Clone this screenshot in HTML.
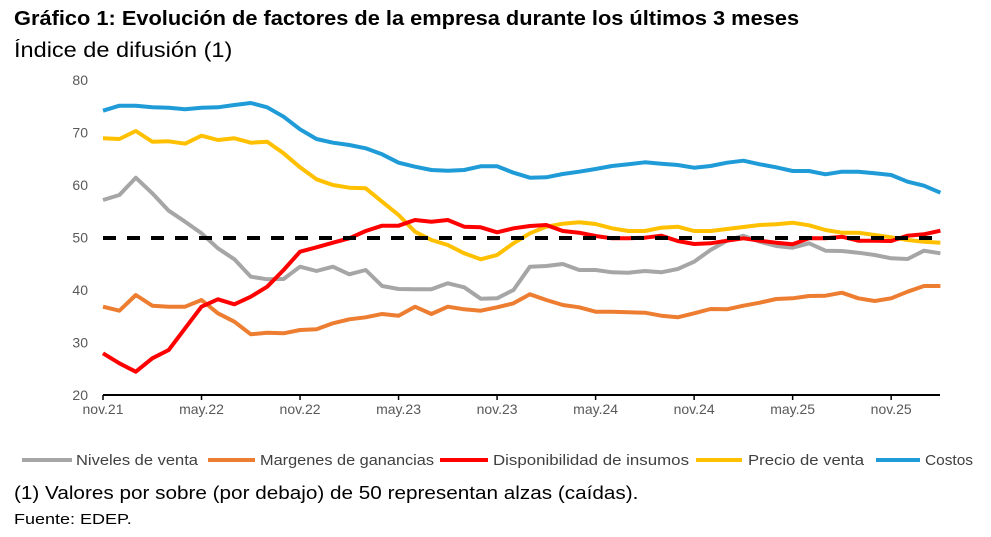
<!DOCTYPE html>
<html><head><meta charset="utf-8"><style>
body{margin:0;background:#fff;font-family:"Liberation Sans",sans-serif;}
#w{position:relative;width:991px;height:537px;overflow:hidden}
.t{position:absolute;white-space:nowrap;color:#000;transform-origin:0 0}
</style></head><body><div id="w">
<div class="t" style="left:14px;top:8px;font-size:20px;font-weight:bold;transform:scaleX(1.09)">Gráfico 1: Evolución de factores de la empresa durante los últimos 3 meses</div>
<div class="t" style="left:14px;top:39px;font-size:21px;transform:scaleX(1.12)">Índice de difusión (1)</div>
<svg id="s" width="991" height="537" style="position:absolute;left:0;top:0" font-family="Liberation Sans, sans-serif"></svg>
<div class="t" style="left:14px;top:483px;font-size:18px;transform:scaleX(1.15)">(1) Valores por sobre (por debajo) de 50 representan alzas (caídas).</div>
<div class="t" style="left:14px;top:511px;font-size:15px;transform:scaleX(1.2)">Fuente: EDEP.</div>
</div>
<script>
var s=document.getElementById('s'),h='';
for(var v=20;v<=80;v+=10){var y=395-(v-20)*5.25;h+='<text x="88" y="'+(y+5)+'" font-size="14" fill="#595959" text-anchor="end">'+v+'</text>';}
var lab=['nov.21','may.22','nov.22','may.23','nov.23','may.24','nov.24','may.25','nov.25'];
for(var i=0;i<9;i++){var x=103+16.42*6*i;h+='<line x1="'+x+'" y1="395" x2="'+x+'" y2="400" stroke="#000" stroke-width="1.5"/>';h+='<text x="'+x+'" y="414" font-size="14" fill="#595959" text-anchor="middle">'+lab[i]+'</text>';}
h+='<line x1="103" y1="395" x2="940" y2="395" stroke="#000" stroke-width="2"/>';
var D={
'#1F9BD7':[122,107,107,112,113,118,113,112,105,99,112,140,178,207,218,225,235,253,278,290,300,302,300,289,289,308,323,322,312,305,297,288,283,277,281,285,293,288,278,272,283,292,303,303,313,305,305,310,315,335,347,368],
'#FFC000':[205,207,183,215,214,221,197,210,205,218,215,250,292,328,345,353,355,395,435,485,510,525,550,568,555,520,490,470,461,457,462,475,483,483,473,470,483,483,477,471,465,463,458,466,480,488,488,495,502,510,515,518],
'#A6A6A6':[390,375,323,370,422,455,490,535,568,620,628,627,590,603,590,613,600,648,657,658,658,640,652,686,685,660,590,588,582,600,600,607,608,603,607,597,575,540,512,497,515,528,533,520,542,543,548,555,565,567,542,550],
'#ED7D31':[710,722,675,707,710,710,690,730,755,793,788,790,780,778,760,748,742,732,737,710,732,710,718,722,712,700,673,690,705,712,725,725,727,728,737,742,730,717,718,707,698,687,685,678,677,668,685,693,685,665,648,648],
'#FF0000':[850,880,905,865,840,775,710,688,703,680,650,600,545,532,518,505,483,467,467,450,455,450,470,472,487,475,468,465,483,488,498,505,505,503,497,513,522,520,512,505,512,518,523,505,505,500,512,512,513,497,493,482]};
var order=['#A6A6A6','#ED7D31','#FFC000','#1F9BD7','#FF0000'];
order.forEach(function(c){var p=D[c].map(function(z,m){return (103+16.42*m).toFixed(1)+','+(z/3+70).toFixed(1)}).join(' ');h+='<polyline points="'+p+'" fill="none" stroke="'+c+'" stroke-width="4" stroke-linejoin="round"/>';});
h+='<line x1="103" y1="238" x2="940" y2="238" stroke="#000" stroke-width="4" stroke-dasharray="13,11"/>';
var L=[[22,72,76,'#A6A6A6','Niveles de venta',122],[208,255,260,'#ED7D31','Margenes de ganancias',174],[440,488,493,'#FF0000','Disponibilidad de insumos',196],[696,742,748,'#FFC000','Precio de venta',116],[876,920,925,'#1F9BD7','Costos',48]];
L.forEach(function(l){h+='<line x1="'+l[0]+'" y1="460" x2="'+l[1]+'" y2="460" stroke="'+l[3]+'" stroke-width="4"/><text x="'+l[2]+'" y="465" font-size="15" fill="#404040" textLength="'+l[5]+'" lengthAdjust="spacingAndGlyphs">'+l[4]+'</text>';});
s.innerHTML=h;
</script></body></html>
